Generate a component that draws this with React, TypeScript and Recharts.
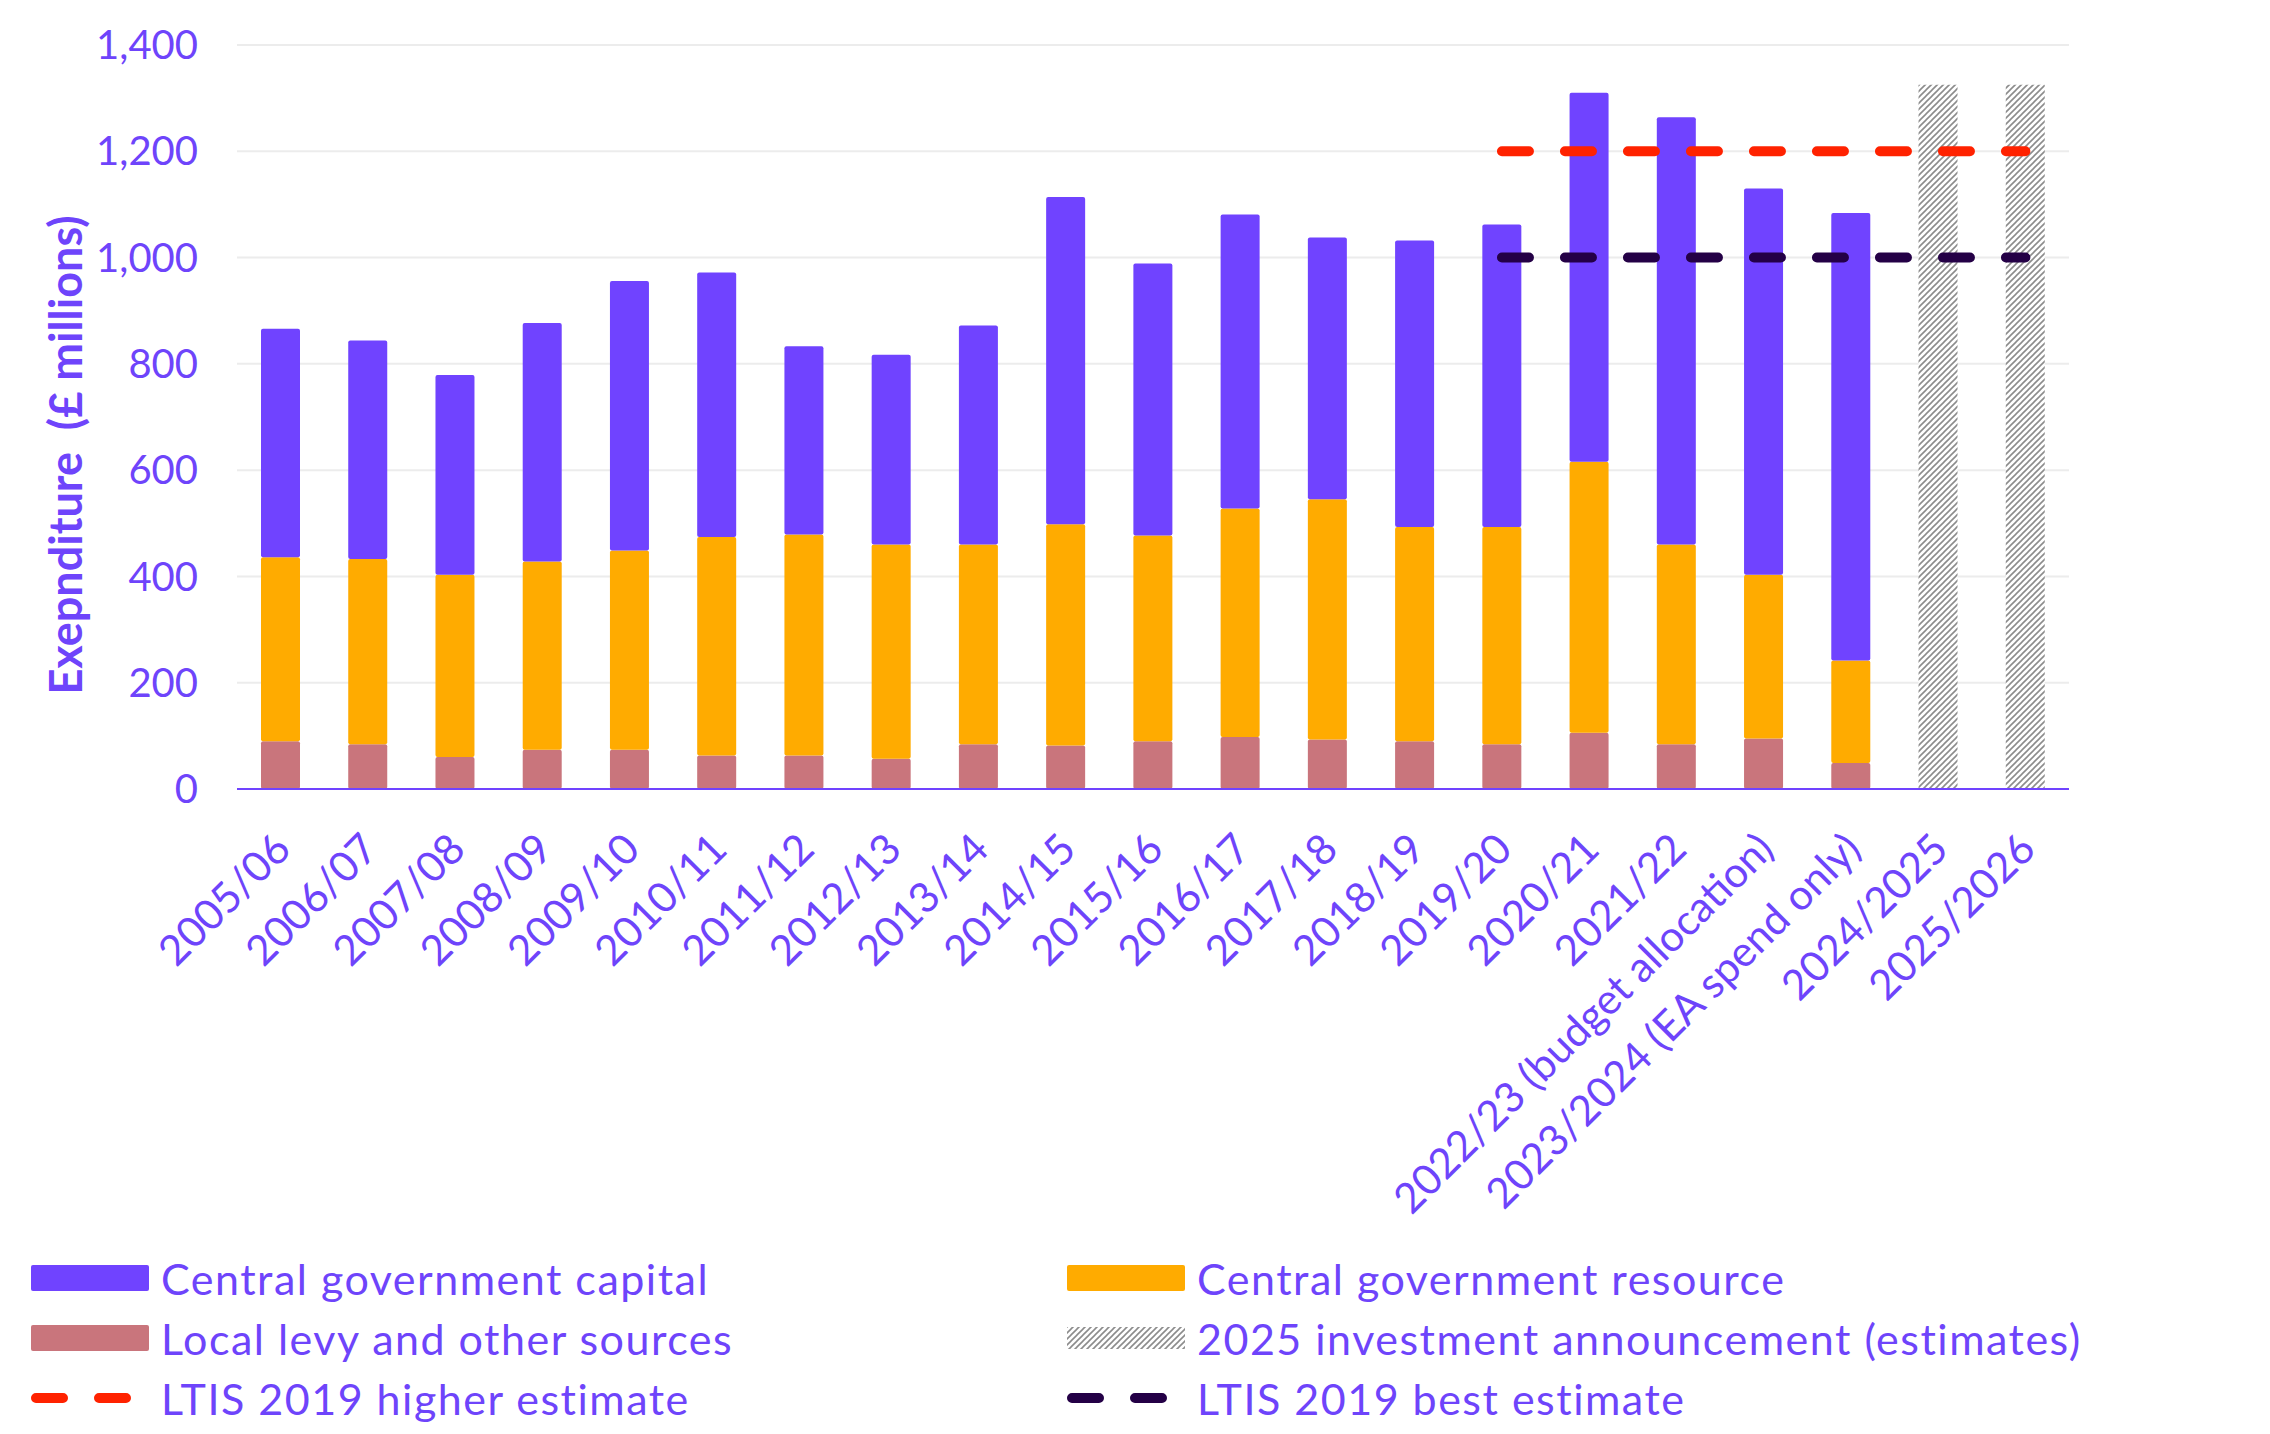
import React from "react";
import {
  ComposedChart,
  Bar,
  Line,
  XAxis,
  YAxis,
  CartesianGrid,
  Legend,
} from "recharts";

const CATEGORIES = [
  "2005/06", "2006/07", "2007/08", "2008/09", "2009/10", "2010/11", "2011/12",
  "2012/13", "2013/14", "2014/15", "2015/16", "2016/17", "2017/18", "2018/19",
  "2019/20", "2020/21", "2021/22", "2022/23 (budget allocation)",
  "2023/2024 (EA spend only)", "2024/2025", "2025/2026",
];

const LOCAL = [90, 84, 60, 74, 74, 63, 63, 57, 84, 82, 90, 98, 93, 90, 84, 106, 84, 95, 49, null, null];
const RESOURCE = [346, 349, 343, 354, 375, 411, 416, 403, 376, 416, 387, 430, 452, 403, 409, 510, 376, 308, 193, null, null];
const CAPITAL = [430, 411, 376, 449, 507, 498, 354, 357, 412, 616, 512, 553, 493, 539, 569, 694, 804, 727, 842, null, null];
const ANNOUNCEMENT = [null, null, null, null, null, null, null, null, null, null, null, null, null, null, null, null, null, null, null, 1325, 1325];
const LTIS_HIGH = [null, null, null, null, null, null, null, null, null, null, null, null, null, null, 1200, 1200, 1200, 1200, 1200, 1200, 1200];
const LTIS_BEST = [null, null, null, null, null, null, null, null, null, null, null, null, null, null, 1000, 1000, 1000, 1000, 1000, 1000, 1000];

const Y_TICKS = [0, 200, 400, 600, 800, 1000, 1200, 1400];

const PURPLE = "#7043ff";
const TEXT = "#6e44fb";
const ORANGE = "#ffab00";
const PINK = "#c9757c";
const RED = "#ff2200";
const DARK = "#240046";
const FONT = "Lato, 'Open Sans', sans-serif";

const data = CATEGORIES.map((name, i) => ({
  name,
  local: LOCAL[i],
  resource: RESOURCE[i],
  capital: CAPITAL[i],
  announcement: ANNOUNCEMENT[i],
  high: LTIS_HIGH[i],
  best: LTIS_BEST[i],
}));

const LEGEND_ITEMS = [
  { label: "Central government capital", kind: "rect", color: PURPLE },
  { label: "Central government resource", kind: "rect", color: ORANGE },
  { label: "Local levy and other sources", kind: "rect", color: PINK },
  { label: "2025 investment announcement (estimates)", kind: "hatch", color: "" },
  { label: "LTIS 2019 higher estimate", kind: "dash", color: RED },
  { label: "LTIS 2019 best estimate", kind: "dash", color: DARK },
];

function Swatch({ kind, color }: { kind: string; color: string }) {
  return (
    <svg width={122} height={30} style={{ display: "block" }}>
      <defs>
        <pattern id="hatchLegend" width={6} height={6} patternUnits="userSpaceOnUse">
          <rect width={6} height={6} fill="#fff" />
          <path d="M0,6 L6,0 M-1,1 L1,-1 M5,7 L7,5" stroke="#8c8c8c" strokeWidth={1.6} />
        </pattern>
      </defs>
      {kind === "rect" && <rect x={2} y={2} width={118} height={26} rx={2} fill={color} />}
      {kind === "hatch" && <rect x={2} y={4} width={118} height={22} fill="url(#hatchLegend)" />}
      {kind === "dash" && (
        <line x1={7} y1={15} x2={102} y2={15} stroke={color} strokeWidth={10}
          strokeLinecap="round" strokeDasharray="27 36" />
      )}
    </svg>
  );
}

function LegendGrid() {
  return (
    <div
      style={{
        display: "grid",
        gridTemplateColumns: "1036px 1100px",
        rowGap: 20,
        fontFamily: FONT,
        fontSize: 43,
        letterSpacing: 1.5,
        color: TEXT,
      }}
    >
      {LEGEND_ITEMS.map((item) => (
        <div key={item.label} style={{ display: "flex", alignItems: "center", height: 40 }}>
          <Swatch kind={item.kind} color={item.color} />
          <span style={{ marginLeft: 10, whiteSpace: "nowrap" }}>{item.label}</span>
        </div>
      ))}
    </div>
  );
}

function XTick(props: any) {
  const { x, y, payload } = props;
  return (
    <g transform={`translate(${x + 2},${y + 44})`}>
      <text
        x={0}
        y={0}
        dy="0.35em"
        textAnchor="end"
        transform="rotate(-45)"
        fill={TEXT}
        fontSize={42}
        fontFamily={FONT}
      >
        {payload.value}
      </text>
    </g>
  );
}

function YTitle(props: any) {
  const { viewBox } = props;
  const cx = viewBox.x + 65;
  const cy = viewBox.y + viewBox.height / 2 + 38;
  return (
    <text
      x={cx}
      y={cy}
      transform={`rotate(-90, ${cx}, ${cy})`}
      textAnchor="middle"
      dominantBaseline="central"
      fill={TEXT}
      fontSize={45}
      fontWeight="bold"
      fontFamily={FONT}
      style={{ whiteSpace: "pre" }}
    >
      {"Exepnditure  (£ millions)"}
    </text>
  );
}

export default function App() {
  return (
    <div style={{ position: "absolute", left: 0, top: 0, background: "#fff" }}>
      <ComposedChart
        width={2270}
        height={1434}
        data={data}
        margin={{ top: 45, right: 201, left: 0, bottom: 0 }}
        barCategoryGap="55%"
      >
        <defs>
          <pattern id="hatch" width={6} height={6} patternUnits="userSpaceOnUse">
            <rect width={6} height={6} fill="#fff" />
            <path d="M0,6 L6,0 M-1,1 L1,-1 M5,7 L7,5" stroke="#8c8c8c" strokeWidth={1.6} />
          </pattern>
        </defs>
        <CartesianGrid vertical={false} stroke="#ececec" strokeWidth={2} />
        <XAxis
          dataKey="name"
          interval={0}
          height={645}
          tickLine={false}
          axisLine={{ stroke: PURPLE, strokeWidth: 2 }}
          tick={<XTick />}
        />
        <YAxis
          width={237}
          domain={[0, 1400]}
          ticks={Y_TICKS}
          tickFormatter={(v) => v.toLocaleString("en-GB")}
          tickLine={false}
          tickSize={0}
          tickMargin={39}
          axisLine={false}
          tick={{ fill: TEXT, fontSize: 40, fontFamily: FONT }}
          label={<YTitle />}
        />
        <Legend
          layout="horizontal"
          verticalAlign="middle"
          align="center"
          wrapperStyle={{ left: 29, top: 1258, width: 2200 }}
          content={() => <LegendGrid />}
        />
        <Bar dataKey="local" stackId="a" fill={PINK} barSize={39} radius={2} isAnimationActive={false} />
        <Bar dataKey="resource" stackId="a" fill={ORANGE} barSize={39} radius={2} isAnimationActive={false} />
        <Bar dataKey="capital" stackId="a" fill={PURPLE} barSize={39} radius={2} isAnimationActive={false} />
        <Bar dataKey="announcement" stackId="a" fill="url(#hatch)" barSize={39} isAnimationActive={false} />
        <Line
          dataKey="high"
          stroke={RED}
          strokeWidth={10}
          strokeLinecap="round"
          strokeDasharray="27 36"
          dot={false}
          activeDot={false}
          isAnimationActive={false}
        />
        <Line
          dataKey="best"
          stroke={DARK}
          strokeWidth={10}
          strokeLinecap="round"
          strokeDasharray="27 36"
          dot={false}
          activeDot={false}
          isAnimationActive={false}
        />
      </ComposedChart>
    </div>
  );
}
